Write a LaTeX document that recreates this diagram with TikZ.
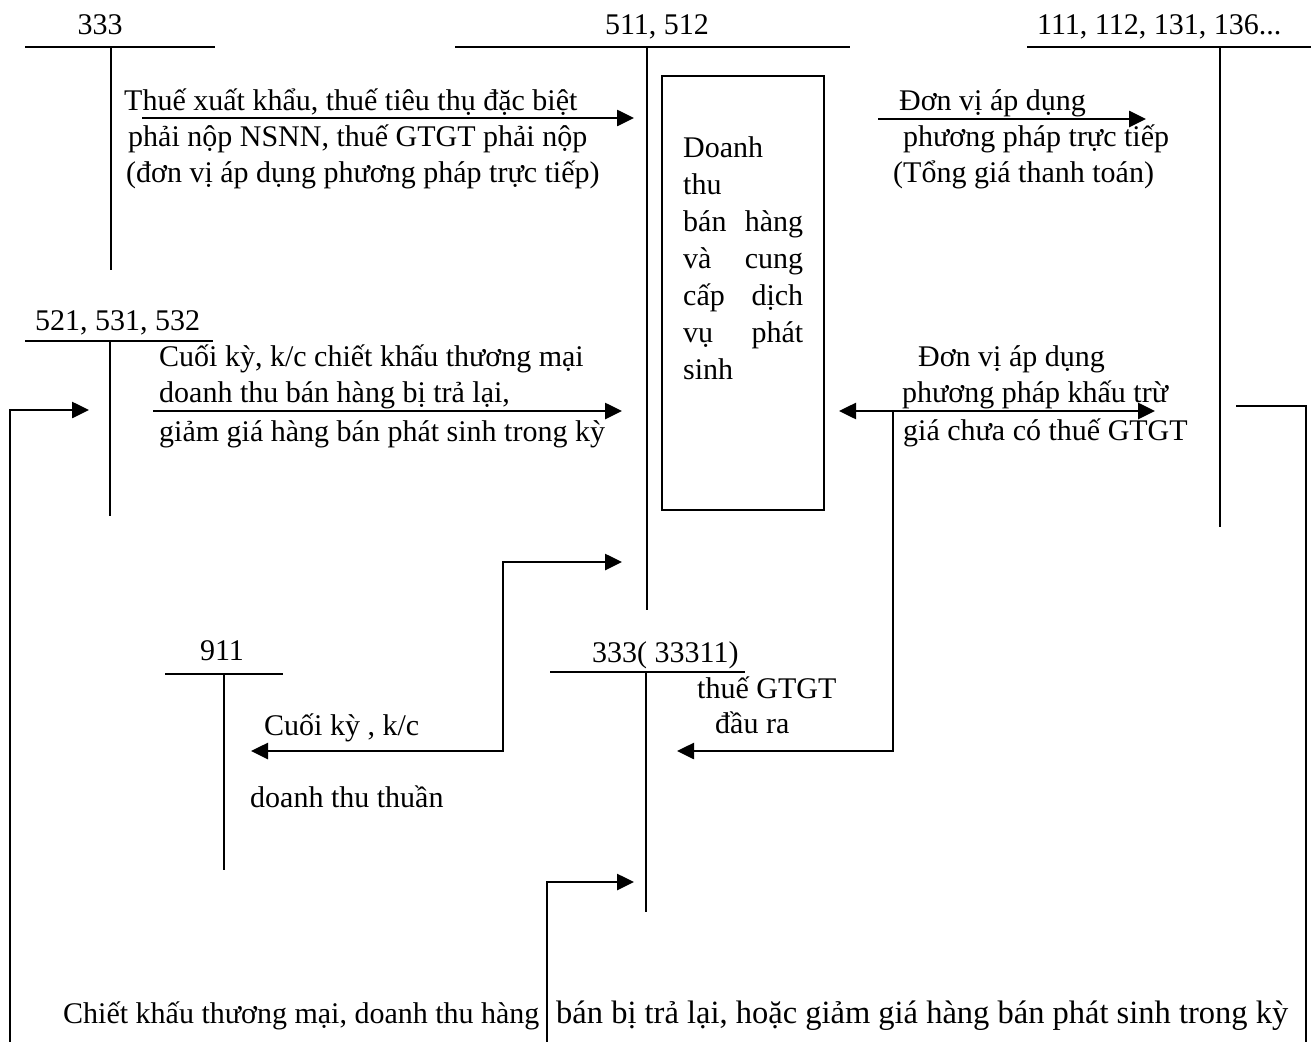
\documentclass[tikz,border=0pt]{standalone}
\usepackage{fontspec}
\setmainfont{Liberation Serif}
\usetikzlibrary{arrows.meta}
\newcommand{\myfont}{\fontsize{30}{36}\selectfont}
\newcommand{\mybigfont}{\fontsize{32.5}{39}\selectfont}
\begin{document}
\begin{tikzpicture}[x=1pt,y=-1pt,
  tline/.style={line width=2pt},
  conn/.style={line width=2.6pt,-{Triangle[length=17pt,width=16pt]}},
  dconn/.style={line width=2.6pt,{Triangle[length=17pt,width=16pt]}-{Triangle[length=17pt,width=16pt]}},
  plain/.style={line width=2.2pt},
  lbl/.style={anchor=base west,inner sep=0pt,font=\myfont},
  clbl/.style={anchor=base,inner sep=0pt,font=\myfont}]
\useasboundingbox[fill=white] (0,0) rectangle (1311,1041);

% ---- T-accounts ----
\node[clbl] (n333) at (100,35) {333};
\coordinate (a333l) at (25,47); \coordinate (a333r) at (215,47);
\coordinate (a333t) at (111,47); \coordinate (a333b) at (111,270);
\draw[tline] (a333l) -- (a333r); \draw[tline] (a333t) -- (a333b);

\node[clbl] (n511) at (657,35) {511, 512};
\coordinate (a511l) at (455,47); \coordinate (a511r) at (850,47);
\coordinate (a511t) at (647,47); \coordinate (a511b) at (647,610);
\draw[tline] (a511l) -- (a511r); \draw[tline] (a511t) -- (a511b);

\node[lbl] (n111) at (1037,35) {111, 112, 131, 136...};
\coordinate (a111l) at (1027,47); \coordinate (a111r) at (1311,47);
\coordinate (a111t) at (1220,47); \coordinate (a111b) at (1220,527);
\draw[tline] (a111l) -- (a111r); \draw[tline] (a111t) -- (a111b);

\node[lbl] (n521) at (35,330) {521, 531, 532};
\coordinate (a521l) at (25,341); \coordinate (a521r) at (213,341);
\coordinate (a521t) at (110,341); \coordinate (a521b) at (110,516);
\draw[tline] (a521l) -- (a521r); \draw[tline] (a521t) -- (a521b);

\node[clbl] (n911) at (222,660) {911};
\coordinate (a911l) at (165,674); \coordinate (a911r) at (283,674);
\coordinate (a911t) at (224,674); \coordinate (a911b) at (224,870);
\draw[tline] (a911l) -- (a911r); \draw[tline] (a911t) -- (a911b);

\node[lbl] (n33311) at (592,662) {333( 33311)};
\coordinate (a33l) at (550,672); \coordinate (a33r) at (745,672);
\coordinate (a33t) at (646,672); \coordinate (a33b) at (646,912);
\draw[tline] (a33l) -- (a33r); \draw[tline] (a33t) -- (a33b);

% ---- box ----
\node[draw,line width=2pt,minimum width=162pt,minimum height=434pt,inner sep=0pt] (box) at (743,292.5) {};
\node[lbl] (bx1) at (683,157) {Doanh};
\node[lbl] (bx2) at (683,194) {thu};
\node[lbl] (bx3) at (683,231) {\makebox[120pt][s]{bán hàng}};
\node[lbl] (bx4) at (683,268) {\makebox[120pt][s]{và cung}};
\node[lbl] (bx5) at (683,305) {\makebox[120pt][s]{cấp dịch}};
\node[lbl] (bx6) at (683,342) {\makebox[120pt][s]{vụ phát}};
\node[lbl] (bx7) at (683,379) {sinh};

% ---- arrow A: 333 -> 511 ----
\coordinate (pA1) at (142,118); \coordinate (pA2) at (634,118);
\draw[conn] (pA1) -- (pA2);
\node[lbl] (tA1) at (124,110) {Thuế xuất khẩu, thuế tiêu thụ đặc biệt};
\node[lbl] (tA2) at (128,146) {phải nộp NSNN, thuế GTGT phải nộp};
\node[lbl] (tA3) at (126,182) {(đơn vị áp dụng phương pháp trực tiếp)};

% ---- arrow B: -> 111 ----
\coordinate (pB1) at (878,119); \coordinate (pB2) at (1146,119);
\draw[conn] (pB1) -- (pB2);
\node[lbl] (tB1) at (899,110) {Đơn vị áp dụng};
\node[lbl] (tB2) at (903,146) {phương pháp trực tiếp};
\node[lbl] (tB3) at (893,182) {(Tổng giá thanh toán)};

% ---- arrow C: 521 -> 511 ----
\coordinate (pC1) at (153,411); \coordinate (pC2) at (622,411);
\draw[conn] (pC1) -- (pC2);
\node[lbl] (tC1) at (159,366) {Cuối kỳ, k/c chiết khấu thương mại};
\node[lbl] (tC2) at (159,402) {doanh thu bán hàng bị trả lại,};
\node[lbl] (tC3) at (159,441) {giảm giá hàng bán phát sinh trong kỳ};

% ---- arrow D: 111 <-> 511, branch to 33311 ----
\coordinate (pD1) at (839,411); \coordinate (pD2) at (1155,411);
\draw[dconn] (pD1) -- (pD2);
\coordinate (pD3) at (893,411); \coordinate (pD4) at (893,751); \coordinate (pD5) at (677,751);
\draw[conn] (pD3) -- (pD4) -- (pD5);
\node[lbl] (tD1) at (918,366) {Đơn vị áp dụng};
\node[lbl] (tD2) at (902,402) {phương pháp khấu trừ};
\node[lbl] (tD3) at (903,440) {giá chưa có thuế GTGT};
\node[lbl] (tD4) at (697,698) {thuế GTGT};
\node[lbl] (tD5) at (715,733) {đầu ra};

% ---- arrow E: 511 <-> 911 ----
\coordinate (pE1) at (622,562); \coordinate (pE2) at (503,562);
\coordinate (pE3) at (503,751); \coordinate (pE4) at (251,751);
\draw[dconn] (pE1) -- (pE2) -- (pE3) -- (pE4);
\node[lbl] (tE1) at (264,735) {Cuối kỳ , k/c};
\node[lbl] (tE2) at (250,807) {doanh thu thuần};

% ---- loop: 111 -> 521 along bottom ----
\coordinate (pL1) at (1236,406); \coordinate (pL2) at (1306,406);
\coordinate (pL3) at (1306,1050); \coordinate (pL4) at (10,1050);
\coordinate (pL5) at (10,410); \coordinate (pL6) at (89,410);
\draw[plain] (pL1) -- (pL2) -- (pL3);
\draw[conn] (pL4) -- (pL5) -- (pL6);

% ---- arrow F: bottom -> 33311 ----
\coordinate (pF1) at (547,1050); \coordinate (pF2) at (547,882); \coordinate (pF3) at (634,882);
\draw[conn] (pF1) -- (pF2) -- (pF3);

\node[lbl] (tF1) at (63,1023) {Chiết khấu thương mại, doanh thu hàng};
\node[lbl,font=\mybigfont] (tF2) at (556,1023) {bán bị trả lại, hoặc giảm giá hàng bán phát sinh trong kỳ};
\end{tikzpicture}
\end{document}
